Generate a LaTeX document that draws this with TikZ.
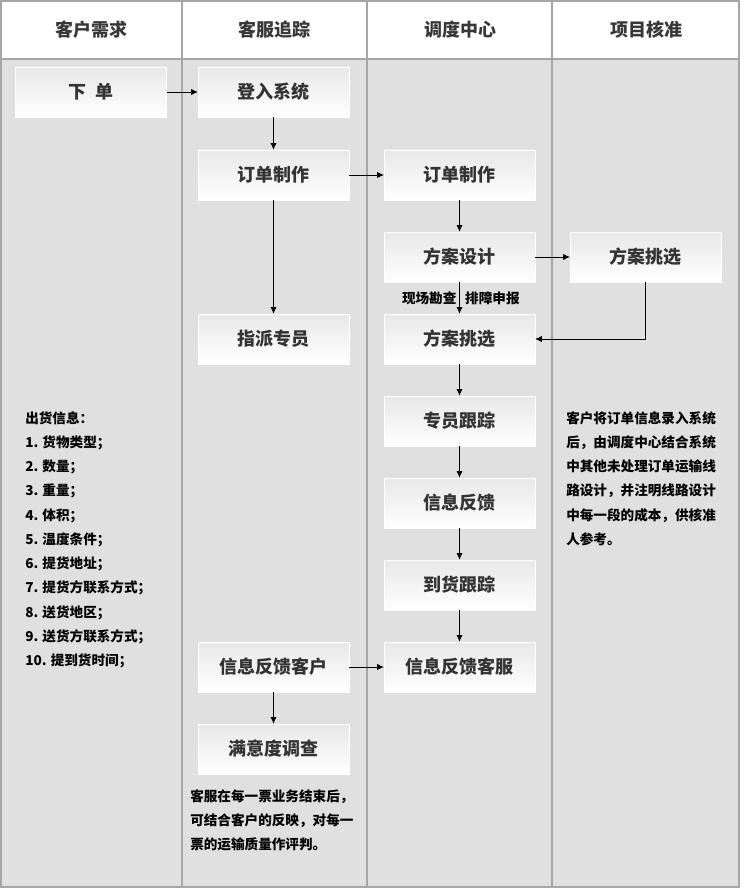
\documentclass[tikz,border=0pt]{standalone}
\usepackage{fontspec}
\setmainfont{Noto Sans CJK SC}
\usetikzlibrary{positioning,calc,arrows.meta}
\newcommand*{\boxfont}{\fontsize{13.5}{16}\selectfont\bfseries}
\newcommand*{\notefont}{\fontsize{10.2}{18.2}\selectfont\bfseries}

\begin{document}
\begin{tikzpicture}[x=.75pt,y=-.75pt,
  lane/.style={draw=black!35,line width=.8pt},
  head/.style={font=\boxfont,text=black!78},
  stage/.style={minimum width=113pt,minimum height=37.5pt,inner sep=0pt,
    top color=black!9,middle color=white,bottom color=white,draw=white,
    font=\boxfont,text=black!80},
  flow/.style={-{Latex[length=5pt,width=4.6pt]},line width=.6pt},
  note/.style={align=left,anchor=north west,inner sep=0pt,font=\notefont}]
\useasboundingbox (0,0) rectangle (743,891);
% Lanes and header row
\fill[white] (0,0) rectangle (743,891);
\fill[black!12] (1,59) rectangle (739,887);
\draw[lane] (1,1) rectangle (739,887);
\draw[lane] (1,59) -- (739,59);
\foreach \x in {182,367,552} \draw[lane] (\x,1) -- (\x,887);
\node[head] (h1) at (91,30) {客户需求};
\node[head] (h2) at (274,30) {客服追踪};
\node[head] (h3) at (460,30) {调度中心};
\node[head] (h4) at (646,30) {项目核准};
% Steps
\node[stage] (order)  at (91,92)    {下\ \ 单};
\node[stage] (login)  at (273.5,92)  {登入系统};
\node[stage] (make)   at (273.5,175) {订单制作};
\node[stage] (make2)  at (459.5,175) {订单制作};
\node[stage] (plan)   at (459.5,257) {方案设计};
\node[stage] (pick2)  at (645.5,257) {方案挑选};
\node[stage] (assign) at (273.5,339) {指派专员};
\node[stage] (pick)   at (459.5,339) {方案挑选};
\node[stage] (track)  at (459.5,421) {专员跟踪};
\node[stage] (info)   at (459.5,503) {信息反馈};
\node[stage] (arrive) at (459.5,585) {到货跟踪};
\node[stage] (fbc)    at (273.5,667) {信息反馈客户};
\node[stage] (fbs)    at (459.5,667) {信息反馈客服};
\node[stage] (survey) at (273.5,749) {满意度调查};
% Connectors
\draw[flow] (order) -- (login);
\draw[flow] (login) -- (make);
\draw[flow] (make) -- (make2);
\draw[flow] (make) -- (assign);
\draw[flow] (make2) -- (plan);
\draw[flow] (plan) -- (pick2);
\draw[flow] (plan) -- node[left,inner sep=2pt,font=\notefont] {现场勘查}
  node[right,inner sep=4pt,font=\notefont] {排障申报} (pick);
\draw[flow] (pick2.south) |- (pick.east);
\draw[flow] (pick) -- (track);
\draw[flow] (track) -- (info);
\draw[flow] (info) -- (arrive);
\draw[flow] (arrive) -- (fbs);
\draw[flow] (fbc) -- (fbs);
\draw[flow] (fbc) -- (survey);
% Notes
\node[note] (goods) at (25,411) {出货信息：\\1. 货物类型；\\2. 数量；\\3. 重量；\\4. 体积；\\
  5. 温度条件；\\6. 提货地址；\\7. 提货方联系方式；\\8. 送货地区；\\9. 送货方联系方式；\\
  10. 提到货时间；};
\node[note] (check) at (566,411) {客户将订单信息录入系统\\后，由调度中心结合系统\\
  中其他未处理订单运输线\\路设计，并注明线路设计\\中每一段的成本，供核准\\人参考。};
\node[note] (rate) at (190,789) {客服在每一票业务结束后，\\可结合客户的反映，对每一\\
  票的运输质量作评判。};
\end{tikzpicture}
\end{document}
